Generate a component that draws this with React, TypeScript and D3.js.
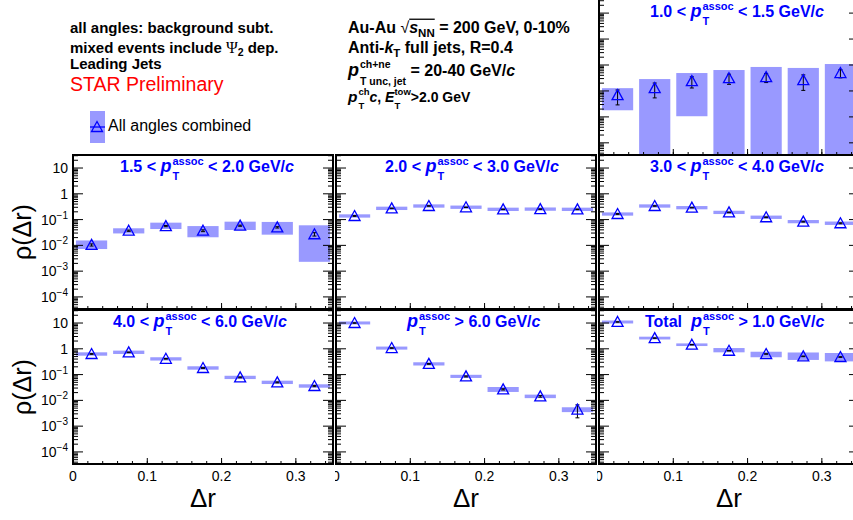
import React from "react";
import * as d3 from "d3";

const FONT = '"Liberation Sans", Arial, Helvetica, sans-serif';
const SERIF = '"Liberation Serif", "Times New Roman", serif';
const BLUE = "#0000ff";
const BAND = "#9999ff";

// Δr bin centres shared by every panel
const drBins = [0.025, 0.075, 0.125, 0.175, 0.225, 0.275, 0.325];
const xTickValues = [0, 0.1, 0.2, 0.3];
const xTickLabels = ["0", "0.1", "0.2", "0.3"];
const yTickValues = [10, 1, 0.1, 0.01, 0.001, 0.0001];
const yTickBase = ["10", "1", "10", "10", "10", "10"];
const yTickExp = ["", "", "\u22121", "\u22122", "\u22123", "\u22124"];

// 1.0 < pT < 1.5
const pt1015 = [0.0069, 0.0128, 0.024, 0.031, 0.034, 0.026, 0.049];
const pt1015Lo = [0.0018, 1e-6, 0.00106, 1e-6, 1e-6, 1e-6, 1e-6];
const pt1015Hi = [0.0128, 0.0287, 0.049, 0.064, 0.084, 0.077, 0.109];
const pt1015Stat = [0.004, 0.0074, 0.011, 0.013, 0.013, 0.0155, 0.017];
// 1.5 < pT < 2.0
const pt1520 = [0.0104, 0.037, 0.056, 0.037, 0.058, 0.05, 0.027];
const pt1520Lo = [0.0072, 0.029, 0.043, 0.0206, 0.0395, 0.026, 0.0023];
const pt1520Hi = [0.0155, 0.046, 0.076, 0.056, 0.083, 0.081, 0.06];
const pt1520Stat = [0.001, 0.002, 0.003, 0.003, 0.003, 0.003, 0.004];
// 2.0 < pT < 3.0
const pt2030 = [0.138, 0.273, 0.337, 0.3, 0.25, 0.255, 0.25];
const pt2030Lo = [0.119, 0.235, 0.29, 0.26, 0.215, 0.22, 0.215];
const pt2030Hi = [0.16, 0.317, 0.39, 0.35, 0.29, 0.295, 0.29];
const pt2030Stat = [0.005, 0.006, 0.007, 0.006, 0.006, 0.006, 0.006];
// 3.0 < pT < 4.0
const pt3040 = [0.165, 0.337, 0.29, 0.19, 0.123, 0.083, 0.072];
const pt3040Lo = [0.142, 0.29, 0.25, 0.164, 0.106, 0.072, 0.062];
const pt3040Hi = [0.19, 0.39, 0.335, 0.22, 0.143, 0.096, 0.084];
const pt3040Stat = [0.006, 0.008, 0.007, 0.005, 0.004, 0.003, 0.003];
// 4.0 < pT < 6.0
const pt4060 = [0.63, 0.73, 0.41, 0.18, 0.078, 0.05, 0.036];
const pt4060Lo = [0.54, 0.63, 0.35, 0.155, 0.067, 0.043, 0.031];
const pt4060Hi = [0.73, 0.85, 0.47, 0.21, 0.09, 0.058, 0.042];
const pt4060Stat = [0.02, 0.02, 0.012, 0.006, 0.003, 0.002, 0.002];
// pT > 6.0
const pt6 = [10, 1.07, 0.26, 0.085, 0.0267, 0.0143, 0.0044];
const pt6Lo = [8.8, 0.93, 0.225, 0.074, 0.0212, 0.0122, 0.0035];
const pt6Hi = [11.5, 1.22, 0.3, 0.098, 0.033, 0.0167, 0.0054];
const pt6Stat = [0.2, 0.03, 0.01, 0.004, 0.0015, 0.001, 0.0023];
// total pT > 1.0
const ptTot = [11, 2.6, 1.44, 0.84, 0.63, 0.51, 0.48];
const ptTotLo = [9.6, 2.3, 1.28, 0.73, 0.47, 0.37, 0.325];
const ptTotHi = [12.5, 2.95, 1.62, 1.07, 0.77, 0.72, 0.687];
const ptTotStat = [0.2, 0.05, 0.03, 0.02, 0.015, 0.015, 0.015];

const panels = [
  { key: "1015", col: 2, row: 0, pre: "1.0 < ", post: " < 1.5 GeV/", vals: pt1015, lo: pt1015Lo, hi: pt1015Hi, stat: pt1015Stat, titleDx: 51 },
  { key: "1520", col: 0, row: 1, pre: "1.5 < ", post: " < 2.0 GeV/", vals: pt1520, lo: pt1520Lo, hi: pt1520Hi, stat: pt1520Stat, titleDx: 47 },
  { key: "2030", col: 1, row: 1, pre: "2.0 < ", post: " < 3.0 GeV/", vals: pt2030, lo: pt2030Lo, hi: pt2030Hi, stat: pt2030Stat, titleDx: 49 },
  { key: "3040", col: 2, row: 1, pre: "3.0 < ", post: " < 4.0 GeV/", vals: pt3040, lo: pt3040Lo, hi: pt3040Hi, stat: pt3040Stat, titleDx: 51 },
  { key: "4060", col: 0, row: 2, pre: "4.0 < ", post: " < 6.0 GeV/", vals: pt4060, lo: pt4060Lo, hi: pt4060Hi, stat: pt4060Stat, titleDx: 40 },
  { key: "6", col: 1, row: 2, pre: "", post: " > 6.0 GeV/", vals: pt6, lo: pt6Lo, hi: pt6Hi, stat: pt6Stat, titleDx: 71 },
  { key: "tot", col: 2, row: 2, pre: "Total  ", post: " > 1.0 GeV/", vals: ptTot, lo: ptTotLo, hi: ptTotHi, stat: ptTotStat, titleDx: 46 },
];

// layout of the 3x3 pad grid
const colRanges = [[73, 333], [336, 596], [599, 859]];
const rowRanges = [[155, 0], [309, 155], [464, 310]];
const padClipLeft = [0, 335, 597];
const yDomain = [3.4e-5, 32];
const binHalf = 0.021;

let ctx: CanvasRenderingContext2D | null = null;
function textWidth(t: string, size: number, bold: boolean, italic: boolean, family: string) {
  if (!ctx) ctx = document.createElement("canvas").getContext("2d");
  ctx!.font = `${italic ? "italic " : ""}${bold ? "bold " : ""}${size}px ${family}`;
  return ctx!.measureText(t).width;
}

type Seg = {
  t?: string; sup?: string; sub?: string; size?: number; bold?: boolean; italic?: boolean;
  family?: string; scriptSize?: number; supDy?: number; subDy?: number; over?: boolean; gap?: number;
};

function RichText({ x, y, segs, size, bold = false, fill = "#000", anchor = "start", family = FONT }: any) {
  const pieces: any[] = [];
  let cx = 0;
  let overStart: number | null = null;
  let overEnd = 0;
  (segs as Seg[]).forEach((s) => {
    const sz = s.size ?? size;
    const b = s.bold ?? bold;
    const it = s.italic ?? false;
    const fam = s.family ?? family;
    const startX = cx;
    if (s.t !== undefined) {
      pieces.push({ text: s.t, x: cx, dy: 0, size: sz, bold: b, italic: it, family: fam });
      cx += textWidth(s.t, sz, b, it, fam);
    } else {
      const ss = s.scriptSize ?? size * 0.7;
      let w = 0;
      if (s.sup) {
        pieces.push({ text: s.sup, x: cx, dy: s.supDy ?? -size * 0.45, size: ss, bold: b, italic: false, family: fam });
        w = Math.max(w, textWidth(s.sup, ss, b, false, fam));
      }
      if (s.sub) {
        pieces.push({ text: s.sub, x: cx, dy: s.subDy ?? size * 0.4, size: ss, bold: b, italic: false, family: fam });
        w = Math.max(w, textWidth(s.sub, ss, b, false, fam));
      }
      cx += w;
    }
    cx += s.gap ?? 0;
    if (s.over) {
      if (overStart === null) overStart = startX;
      overEnd = cx;
    }
  });
  const shift = anchor === "middle" ? -cx / 2 : anchor === "end" ? -cx : 0;
  return (
    <g>
      {pieces.map((p, i) => (
        <text
          key={i}
          x={x + shift + p.x}
          y={y + p.dy}
          fontFamily={p.family}
          fontSize={p.size}
          fontWeight={p.bold ? "bold" : "normal"}
          fontStyle={p.italic ? "italic" : "normal"}
          fill={fill}
          xmlSpace="preserve"
          style={{ whiteSpace: "pre" }}
        >
          {p.text}
        </text>
      ))}
      {overStart !== null && (
        <line
          x1={x + shift + overStart}
          x2={x + shift + overEnd}
          y1={y - size * 0.86}
          y2={y - size * 0.86}
          stroke={fill}
          strokeWidth={1.3}
        />
      )}
    </g>
  );
}

function triangle(cx: number, cy: number) {
  return `M${cx},${cy - 5.5}L${cx + 5.5},${cy + 4.5}L${cx - 5.5},${cy + 4.5}Z`;
}

const isDecade = (v: number) => Math.abs(Math.log10(v) - Math.round(Math.log10(v))) < 1e-6;

function Panel({ p }: any) {
  const [x0, x1] = colRanges[p.col];
  const [yb, yt] = rowRanges[p.row];
  const x = d3.scaleLinear().domain([0, 0.35]).range([x0, x1]);
  const y = d3.scaleLog().domain(yDomain).range([yb, yt]).clamp(true);
  const clipId = `clip-${p.key}`;
  const padClip = `pad-${p.key}`;
  const yTicks = y.ticks();
  const xMinor = x.ticks(17);
  const xMajor = x.ticks(4);
  const titleSegs: Seg[] = [
    ...(p.pre ? [{ t: p.pre }] : []),
    { t: "p", italic: true, size: 18, gap: 1 },
    { sup: "assoc", sub: "T", scriptSize: 11, supDy: -7, subDy: 8 },
    { t: p.post },
    { t: "c", italic: true },
  ];
  const colCenter = (x0 + x1) / 2;
  return (
    <g>
      <defs>
        <clipPath id={clipId}>
          <rect x={x0} y={yt} width={x1 - x0} height={yb - yt} />
        </clipPath>
        <clipPath id={padClip}>
          <rect x={padClipLeft[p.col]} y={0} width={900} height={520} />
        </clipPath>
      </defs>
      <g clipPath={`url(#${clipId})`}>
        {drBins.map((c, i) => (
          <rect
            key={"b" + i}
            x={x(c - binHalf)}
            width={x(c + binHalf) - x(c - binHalf)}
            y={y(p.hi[i])}
            height={Math.max(1.5, y(p.lo[i]) - y(p.hi[i]))}
            fill={BAND}
          />
        ))}
        {drBins.map((c, i) => {
          const lo = y(Math.max(p.vals[i] - p.stat[i], 1e-7));
          const hi = y(p.vals[i] + p.stat[i]);
          const cx = x(c);
          return (
            <g key={"e" + i} stroke="#000" strokeWidth={1}>
              <line x1={cx} x2={cx} y1={hi} y2={lo} />
              <line x1={cx - 2} x2={cx + 2} y1={hi} y2={hi} />
              <line x1={cx - 2} x2={cx + 2} y1={lo} y2={lo} />
            </g>
          );
        })}
        {drBins.map((c, i) => (
          <path key={"m" + i} d={triangle(x(c), y(p.vals[i]))} fill="none" stroke={BLUE} strokeWidth={1.3} />
        ))}
      </g>
      {/* ticks */}
      <g stroke="#000" strokeWidth={1}>
        {yTicks.map((v, i) => {
          const len = isDecade(v) ? 10 : 5;
          return (
            <g key={"yt" + i}>
              <line x1={x0} x2={x0 + len} y1={y(v)} y2={y(v)} />
              <line x1={x1} x2={x1 - len} y1={y(v)} y2={y(v)} />
            </g>
          );
        })}
        {xMinor.map((v, i) => (
          <line key={"xm" + i} x1={x(v)} x2={x(v)} y1={yb} y2={yb - 3} />
        ))}
        {xMajor.map((v, i) => (
          <line key={"xM" + i} x1={x(v)} x2={x(v)} y1={yb} y2={yb - 6} />
        ))}
      </g>
      {/* frame */}
      {p.row === 0 ? (
        <path d={`M${x0},${yt}V${yb}H${x1}V${yt}`} fill="none" stroke="#000" strokeWidth={2} />
      ) : (
        <rect x={x0} y={yt} width={x1 - x0} height={yb - yt} fill="none" stroke="#000" strokeWidth={2} />
      )}
      {/* y labels on the left column */}
      {p.col === 0 &&
        yTickValues.map((v, i) => (
          <RichText
            key={"yl" + i}
            x={68}
            y={y(v) + 5}
            size={14}
            anchor="end"
            segs={yTickExp[i] ? [{ t: yTickBase[i] }, { sup: yTickExp[i], scriptSize: 10, supDy: -6 }] : [{ t: yTickBase[i] }]}
          />
        ))}
      {p.col === 0 && (
        <text
          transform={`translate(31,${(yb + yt) / 2}) rotate(-90)`}
          textAnchor="middle"
          fontFamily={FONT}
          fontSize={25}
        >
          ρ(Δr)
        </text>
      )}
      {p.row === 2 && (
        <g clipPath={`url(#${padClip})`}>
          {xTickValues.map((v, i) => (
            <text key={"xl" + i} x={x(v)} y={481} textAnchor="middle" fontFamily={FONT} fontSize={14}>
              {xTickLabels[i]}
            </text>
          ))}
          <text x={colCenter} y={507} textAnchor="middle" fontFamily={FONT} fontSize={26}>
            Δr
          </text>
        </g>
      )}
      <RichText x={x0 + p.titleDx} y={yt + 17} size={16} bold fill={BLUE} segs={titleSegs} />
    </g>
  );
}

export default function App() {
  return (
    <svg
      width={853}
      height={520}
      style={{ position: "absolute", left: 0, top: 0, background: "#fff" }}
    >
      <rect x={0} y={0} width={853} height={520} fill="#fff" />
      {panels.map((p) => (
        <Panel key={p.key} p={p} />
      ))}

      {/* top-left text block */}
      <RichText x={70} y={33} size={15} bold segs={[{ t: "all angles: background subt." }]} />
      <RichText
        x={70}
        y={53}
        size={15}
        bold
        segs={[
          { t: "mixed events include " },
          { t: "Ψ", family: SERIF, bold: false, size: 16 },
          { sub: "2", scriptSize: 10.5, subDy: 3 },
          { t: " dep." },
        ]}
      />
      <RichText x={70} y={69} size={15} bold segs={[{ t: "Leading Jets" }]} />
      <text x={70} y={91} fontFamily={FONT} fontSize={19.5} fill="#ff0000">
        STAR Preliminary
      </text>

      {/* legend */}
      <rect x={90} y={111} width={15} height={32} fill={BAND} />
      <line x1={90} x2={105} y1={127} y2={127} stroke={BLUE} strokeWidth={1.3} />
      <path d={triangle(97, 127)} fill="none" stroke={BLUE} strokeWidth={1.3} />
      <text x={108} y={131} fontFamily={FONT} fontSize={16}>
        All angles combined
      </text>

      {/* top-middle text block */}
      <RichText
        x={348}
        y={33}
        size={16}
        bold
        segs={[
          { t: "Au-Au " },
          { t: "\u221A", bold: false },
          { t: "s", italic: true, over: true },
          { sub: "NN", scriptSize: 11.5, subDy: 4, over: true },
          { t: " = 200 GeV, 0-10%" },
        ]}
      />
      <RichText
        x={348}
        y={53}
        size={16}
        bold
        segs={[{ t: "Anti-" }, { t: "k", italic: true }, { sub: "T", scriptSize: 11.5, subDy: 4 }, { t: " full jets, R=0.4" }]}
      />
      <RichText
        x={348}
        y={76}
        size={16}
        bold
        segs={[
          { t: "p", italic: true, size: 18, gap: 1 },
          { sup: "ch+ne", sub: "T unc, jet", scriptSize: 10.5, supDy: -8, subDy: 9 },
          { t: " = 20-40 GeV/" },
          { t: "c", italic: true },
        ]}
      />
      <RichText
        x={348}
        y={102}
        size={14}
        bold
        segs={[
          { t: "p", italic: true, size: 15.5, gap: 1 },
          { sup: "ch", sub: "T", scriptSize: 9.5, supDy: -7, subDy: 7 },
          { t: "c", italic: true },
          { t: ", " },
          { t: "E", italic: true },
          { sup: "tow", sub: "T", scriptSize: 9.5, supDy: -7, subDy: 7 },
          { t: ">2.0 GeV" },
        ]}
      />
    </svg>
  );
}
